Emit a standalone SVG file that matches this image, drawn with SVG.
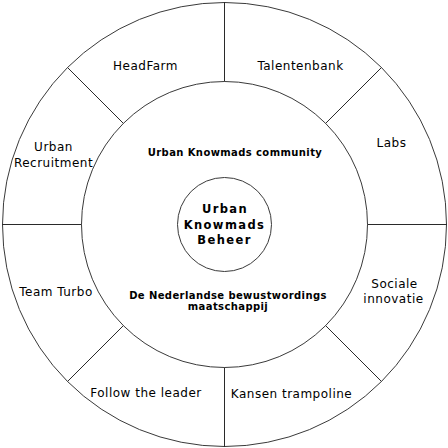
<svg xmlns="http://www.w3.org/2000/svg" width="448" height="448" viewBox="0 0 448 448">
<style>
.ring{fill:none;stroke:#3a3a3a;stroke-width:1}
.div{stroke:#2a2a2a;stroke-width:1;fill:none}
.lbl{font-family:"DejaVu Sans",Verdana,sans-serif;font-size:12px;letter-spacing:0.5px;fill:#000;text-anchor:middle}
.bold{font-family:"DejaVu Sans",Verdana,sans-serif;font-weight:bold;font-size:10px;letter-spacing:0.4px;fill:#000;text-anchor:middle}
.core{font-family:"DejaVu Sans",Verdana,sans-serif;font-weight:bold;font-size:11.5px;letter-spacing:1.4px;fill:#000;text-anchor:middle}
</style>
<rect width="448" height="448" fill="#fff"/>
<g id="outer-ring"><circle class="ring" cx="224.5" cy="224.5" r="222"/></g>
<g id="community">
<circle class="ring" cx="224.5" cy="224.5" r="143"/>
<text class="bold" x="235" y="156">Urban Knowmads community</text>
<text class="bold" x="228" y="299">De Nederlandse bewustwordings</text>
<text class="bold" x="228" y="310">maatschappij</text>
</g>
<g id="beheer">
<circle class="ring" cx="224.5" cy="224.5" r="47"/>
<text class="core" x="225" y="213">Urban</text>
<text class="core" x="224.5" y="229">Knowmads</text>
<text class="core" x="224.5" y="244">Beheer</text>
</g>
<g id="connectors">
<line class="div" x1="224.5" y1="2" x2="224.5" y2="81.5"/>
<line class="div" x1="224.5" y1="367.5" x2="224.5" y2="447"/>
<line class="div" x1="2" y1="224.5" x2="81.5" y2="224.5"/>
<line class="div" x1="367.5" y1="224.5" x2="447" y2="224.5"/>
<line class="div" x1="67.5" y1="67.5" x2="123.4" y2="123.4"/>
<line class="div" x1="381.5" y1="67.5" x2="325.6" y2="123.4"/>
<line class="div" x1="67.5" y1="381.5" x2="123.4" y2="325.6"/>
<line class="div" x1="381.5" y1="381.5" x2="325.6" y2="325.6"/>
</g>
<g id="headfarm"><text class="lbl" x="145.5" y="70">HeadFarm</text></g>
<g id="talentenbank"><text class="lbl" x="300.5" y="70">Talentenbank</text></g>
<g id="labs"><text class="lbl" x="391.5" y="147">Labs</text></g>
<g id="sociale-innovatie"><text class="lbl" x="394.5" y="288">Sociale</text><text class="lbl" x="393.5" y="303">innovatie</text></g>
<g id="kansen-trampoline"><text class="lbl" x="291.5" y="398">Kansen trampoline</text></g>
<g id="follow-the-leader"><text class="lbl" x="146" y="397">Follow the leader</text></g>
<g id="team-turbo"><text class="lbl" x="56" y="296">Team Turbo</text></g>
<g id="urban-recruitment"><text class="lbl" x="53.5" y="151">Urban</text><text class="lbl" x="53.5" y="167">Recruitment</text></g>
</svg>
